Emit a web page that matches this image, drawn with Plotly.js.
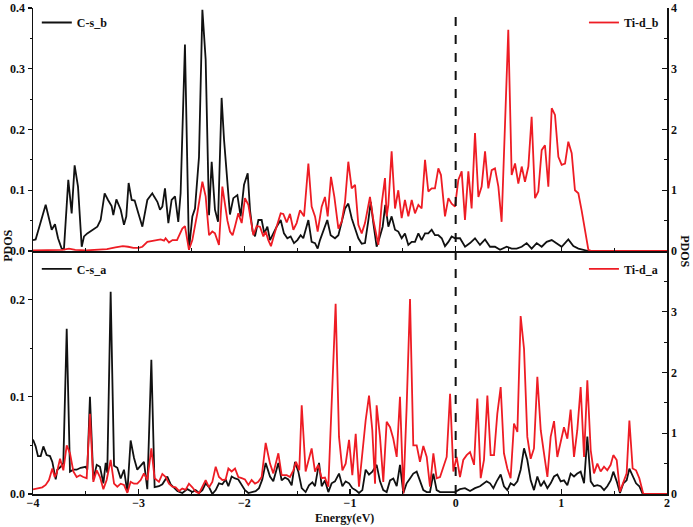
<!DOCTYPE html>
<html>
<head>
<meta charset="utf-8">
<script src="https://cdn.plot.ly/plotly-3.0.1.min.js"></script>
<style>html,body{margin:0;padding:0;background:#fff}#chart{width:693px;height:527px}</style>
</head>
<body>
<div id="chart"></div>
<script>
// ---- Top panel: C-s_b (left axis) ----
const csbE = [-4.000,-3.975,-3.880,-3.823,-3.792,-3.763,-3.729,-3.707,-3.666,-3.634,-3.606,-3.574,-3.539,-3.517,-3.486,-3.438,-3.391,-3.360,-3.322,-3.290,-3.256,-3.240,-3.211,-3.170,-3.139,-3.117,-3.095,-3.066,-3.038,-3.003,-2.965,-2.918,-2.871,-2.855,-2.823,-2.798,-2.776,-2.751,-2.719,-2.688,-2.656,-2.625,-2.603,-2.562,-2.546,-2.524,-2.492,-2.467,-2.429,-2.397,-2.366,-2.334,-2.309,-2.278,-2.249,-2.215,-2.192,
-2.136,-2.104,-2.066,-2.035,-2.003,-1.968,-1.946,-1.921,-1.899,-1.867,-1.836,-1.811,-1.782,-1.757,-1.726,-1.694,-1.656,-1.625,-1.593,-1.562,-1.530,-1.498,-1.467,-1.442,-1.394,-1.363,-1.331,-1.306,-1.284,-1.252,-1.215,-1.183,-1.142,-1.110,-1.079,-1.047,-1.016,-0.984,-0.952,-0.921,-0.889,-0.858,-0.826,-0.804,-0.779,-0.748,-0.722,-0.691,-0.666,-0.637,-0.606,-0.574,-0.543,-0.511,-0.480,-0.448,-0.416,-0.385,-0.353,-0.322,-0.290,-0.259,-0.227,-0.196,-0.164,-0.132,-0.101,-0.069,-0.038,-0.006,
0.041,0.089,0.136,0.183,0.230,0.278,0.325,0.372,0.420,0.483,0.530,0.577,0.625,0.672,0.719,0.767,0.814,0.861,0.909,0.956,1.003,1.066,1.114,1.161,1.208,1.256,2.000];
const csbV = [0.018,0.019,0.076,0.035,0.044,0.021,0.004,0.003,0.117,0.062,0.141,0.106,0.007,0.024,0.029,0.035,0.040,0.051,0.095,0.084,0.074,0.059,0.085,0.068,0.043,0.057,0.112,0.084,0.083,0.062,0.040,0.084,0.095,0.090,0.081,0.068,0.073,0.103,0.046,0.084,0.090,0.048,0.095,0.340,0.194,0.002,0.057,0.070,0.155,0.397,0.315,0.059,0.147,0.068,0.048,0.252,0.183,
0.060,0.087,0.092,0.057,0.109,0.128,0.067,0.032,0.024,0.051,0.051,0.029,0.040,0.018,0.029,0.040,0.051,0.029,0.021,0.024,0.013,0.018,0.026,0.021,0.051,0.015,0.013,0.004,0.018,0.035,0.051,0.026,0.021,0.026,0.046,0.070,0.078,0.054,0.037,0.021,0.012,0.013,0.051,0.081,0.046,0.007,0.021,0.040,0.076,0.040,0.057,0.035,0.032,0.021,0.029,0.010,0.015,0.015,0.029,0.018,0.029,0.029,0.035,0.026,0.026,0.021,0.008,0.015,0.024,0.021,
0.021,0.007,0.013,0.021,0.010,0.019,0.007,0.007,0.002,0.007,0.004,0.004,0.007,0.013,0.004,0.013,0.007,0.015,0.018,0.013,0.007,0.019,0.008,0.004,0.002,0.000,0.000];

// ---- Top panel: Ti-d_b (right axis) ----
const tidbE = [-4.000,-3.900,-3.800,-3.720,-3.660,-3.600,-3.500,-3.400,-3.300,-3.220,-3.150,-3.100,-3.050,-3.000,-2.965,-2.918,-2.855,-2.792,-2.760,-2.745,-2.713,-2.680,-2.637,-2.587,-2.562,-2.524,-2.492,-2.445,-2.397,-2.366,-2.334,-2.303,-2.278,-2.240,-2.208,-2.177,-2.160,
-2.136,-2.111,-2.089,-2.057,-2.025,-1.994,-1.962,-1.940,-1.915,-1.883,-1.852,-1.820,-1.798,-1.773,-1.748,-1.719,-1.688,-1.656,-1.631,-1.599,-1.568,-1.536,-1.505,-1.473,-1.435,-1.394,-1.363,-1.331,-1.306,-1.268,-1.237,-1.211,-1.180,-1.148,-1.110,-1.079,-1.047,-1.016,-0.984,-0.952,-0.921,-0.889,-0.858,-0.826,-0.811,-0.779,-0.732,-0.700,-0.669,-0.653,-0.637,-0.606,-0.574,-0.543,-0.511,-0.480,-0.448,-0.416,-0.385,-0.353,-0.322,-0.290,-0.259,-0.227,-0.196,-0.164,-0.139,-0.101,-0.069,-0.038,-0.006,
0.025,0.057,0.088,0.120,0.151,0.183,0.215,0.246,0.278,0.309,0.341,0.372,0.404,0.435,0.498,0.530,0.562,0.593,0.625,0.656,0.688,0.719,0.751,0.782,0.814,0.845,0.877,0.909,0.940,0.972,1.003,1.035,1.066,1.098,1.129,1.161,1.192,1.224,1.256,1.287,2.000];
const tidbV = [0.01,0.01,0.015,0.02,0.04,0.02,0.01,0.02,0.03,0.06,0.08,0.07,0.05,0.05,0.07,0.15,0.17,0.19,0.17,0.21,0.14,0.18,0.18,0.37,0.41,0.02,0.18,0.62,1.14,0.90,0.26,0.32,0.29,0.10,1.06,0.68,0.50,
0.32,0.26,0.40,0.62,0.46,0.87,0.76,0.51,0.26,0.41,0.40,0.24,0.32,0.18,0.08,0.26,0.46,0.62,0.61,0.47,0.61,0.35,0.46,0.67,0.57,1.44,0.73,0.57,0.32,0.73,0.89,0.57,1.22,0.89,0.37,0.48,0.81,1.47,1.03,1.09,0.43,0.29,0.46,0.76,0.89,0.51,0.10,0.78,1.20,0.57,0.76,1.64,0.70,1.00,0.54,0.84,0.57,0.84,0.62,0.76,0.70,1.50,0.98,1.03,1.03,1.36,1.25,0.57,0.87,0.78,0.73,
1.17,1.31,0.51,1.31,0.70,1.94,0.89,1.06,1.64,1.03,1.33,1.36,1.06,0.48,3.64,1.25,1.44,1.11,1.39,1.14,1.39,2.21,0.87,0.98,1.66,1.74,1.06,2.35,2.24,1.55,1.42,1.44,1.80,1.61,1.00,0.95,0.67,0.35,0.02,0.00,0.00];

// ---- Bottom panel: C-s_a (left axis) ----
const csaE = [-4.000,-3.975,-3.953,-3.927,-3.902,-3.871,-3.839,-3.817,-3.785,-3.770,-3.738,-3.713,-3.681,-3.650,-3.618,-3.587,-3.549,-3.502,-3.486,-3.461,-3.429,-3.397,-3.366,-3.334,-3.312,-3.297,-3.265,-3.233,-3.202,-3.170,-3.139,-3.107,-3.076,-3.044,-3.013,-2.981,-2.950,-2.918,-2.880,-2.849,-2.808,-2.776,-2.729,-2.697,-2.666,-2.634,-2.587,-2.539,-2.492,-2.461,-2.429,-2.397,-2.366,-2.334,-2.303,-2.271,-2.240,-2.208,-2.177,-2.151,-2.120,-2.088,-2.057,-2.025,-1.994,-1.962,-1.924,-1.893,-1.861,-1.830,-1.798,
-1.757,-1.726,-1.678,-1.647,-1.615,-1.584,-1.552,-1.520,-1.489,-1.457,-1.420,-1.388,-1.356,-1.331,-1.293,-1.268,-1.237,-1.205,-1.174,-1.142,-1.104,-1.072,-1.041,-1.009,-0.978,-0.946,-0.915,-0.883,-0.852,-0.820,-0.789,-0.748,-0.716,-0.685,-0.653,-0.621,-0.590,-0.558,-0.527,-0.495,-0.464,-0.432,-0.401,-0.369,-0.338,-0.306,-0.274,-0.243,-0.211,-0.180,-0.148,-0.085,-0.006,
0.041,0.088,0.136,0.183,0.230,0.262,0.293,0.325,0.357,0.388,0.426,0.457,0.489,0.520,0.552,0.584,0.615,0.647,0.678,0.710,0.741,0.773,0.805,0.836,0.868,0.899,0.931,0.962,0.994,1.025,1.057,1.088,1.120,1.151,1.183,1.215,1.246,1.278,1.309,1.341,1.372,1.404,1.435,1.467,1.492,1.524,1.555,1.587,1.618,1.644,1.675,1.707,1.738,1.770,2.000];
const csaV = [0.056,0.049,0.039,0.039,0.049,0.040,0.039,0.033,0.015,0.025,0.028,0.032,0.170,0.023,0.025,0.025,0.027,0.028,0.025,0.100,0.015,0.030,0.028,0.011,0.032,0.022,0.208,0.029,0.027,0.016,0.025,0.002,0.055,0.037,0.025,0.029,0.033,0.005,0.138,0.007,0.008,0.010,0.018,0.010,0.007,0.003,0.001,0.005,0.002,0.004,0.001,0.004,0.011,0.007,0.000,0.004,0.011,0.010,0.015,0.008,0.018,0.016,0.015,0.010,0.004,0.001,0.002,0.003,0.006,0.015,0.032,
0.018,0.013,0.032,0.014,0.017,0.015,0.009,0.033,0.023,0.006,0.002,0.009,0.012,0.008,0.032,0.008,0.014,0.002,0.011,0.013,0.021,0.008,0.013,0.011,0.006,0.004,0.001,0.004,0.025,0.020,0.023,0.030,0.013,0.004,0.002,0.014,0.016,0.008,0.030,0.001,0.011,0.016,0.021,0.023,0.013,0.004,0.002,0.002,0.021,0.004,0.002,0.002,0.002,
0.005,0.006,0.003,0.006,0.008,0.011,0.013,0.011,0.006,0.013,0.020,0.008,0.004,0.011,0.009,0.013,0.025,0.047,0.035,0.014,0.004,0.018,0.008,0.013,0.006,0.011,0.018,0.020,0.013,0.014,0.009,0.021,0.018,0.021,0.023,0.011,0.059,0.013,0.008,0.009,0.008,0.004,0.008,0.014,0.023,0.013,0.001,0.011,0.014,0.026,0.018,0.011,0.008,0.000,0.000];

// ---- Bottom panel: Ti-d_a (right axis) ----
const tidaE = [-4.000,-3.959,-3.912,-3.880,-3.849,-3.817,-3.795,-3.776,-3.744,-3.713,-3.681,-3.650,-3.618,-3.587,-3.555,-3.524,-3.492,-3.461,-3.429,-3.397,-3.366,-3.334,-3.303,-3.265,-3.233,-3.202,-3.170,-3.139,-3.107,-3.076,-3.044,-3.013,-2.981,-2.950,-2.918,-2.880,-2.849,-2.808,-2.776,-2.744,-2.713,-2.681,-2.650,-2.618,-2.587,-2.555,-2.524,-2.492,-2.461,-2.429,-2.397,-2.366,-2.334,-2.303,-2.271,-2.240,-2.208,-2.177,-2.151,-2.120,-2.088,-2.057,-2.025,-1.994,-1.962,-1.931,-1.899,-1.868,-1.836,-1.798,
-1.757,-1.726,-1.678,-1.647,-1.599,-1.568,-1.536,-1.511,-1.480,-1.457,-1.420,-1.363,-1.331,-1.300,-1.268,-1.237,-1.205,-1.136,-1.104,-1.072,-1.041,-1.009,-0.978,-0.946,-0.915,-0.883,-0.852,-0.820,-0.789,-0.763,-0.748,-0.716,-0.685,-0.653,-0.621,-0.590,-0.558,-0.527,-0.495,-0.464,-0.432,-0.401,-0.369,-0.338,-0.306,-0.274,-0.243,-0.211,-0.180,-0.148,-0.116,-0.085,-0.053,-0.022,
0.009,0.041,0.072,0.104,0.136,0.174,0.205,0.237,0.268,0.300,0.331,0.363,0.394,0.426,0.457,0.489,0.520,0.552,0.584,0.615,0.647,0.678,0.710,0.741,0.773,0.805,0.836,0.868,0.899,0.931,0.962,0.994,1.025,1.057,1.088,1.120,1.151,1.183,1.215,1.246,1.278,1.309,1.341,1.372,1.404,1.435,1.467,1.492,1.524,1.555,1.587,1.618,1.644,1.675,1.707,1.738,1.776,2.000];
const tidaV = [0.077,0.09,0.11,0.15,0.23,0.42,0.28,0.34,0.58,0.39,0.80,0.67,0.37,0.28,0.31,0.28,0.26,1.32,0.20,0.39,0.28,0.08,0.23,0.56,0.17,0.12,0.17,0.15,0.02,0.20,0.17,0.17,0.23,0.34,0.23,0.75,0.26,0.20,0.33,0.28,0.17,0.12,0.11,0.05,0.09,0.07,0.17,0.11,0.04,0.01,0.11,0.23,0.11,0.20,0.45,0.28,0.23,0.24,0.42,0.37,0.42,0.28,0.26,0.24,0.15,0.23,0.17,0.20,0.28,0.84,
0.50,0.34,0.67,0.31,0.31,0.28,0.39,0.53,0.39,1.46,0.37,0.75,0.37,0.48,0.26,0.27,0.12,3.13,0.94,0.39,0.50,0.89,0.31,0.99,0.12,0.67,1.21,1.62,1.05,0.17,1.46,0.94,0.20,1.19,1.10,0.91,0.61,1.60,0.01,1.43,3.21,0.80,0.80,0.53,0.79,0.61,0.12,0.67,0.26,0.28,0.45,0.61,1.65,0.37,
0.61,0.28,0.56,0.64,0.69,0.48,1.57,0.26,0.56,1.62,0.64,0.64,1.32,1.76,0.67,0.42,0.26,1.16,1.02,2.93,2.39,0.94,0.58,0.75,1.93,1.05,0.67,0.28,0.94,1.20,0.61,0.89,1.10,0.91,1.39,0.61,1.05,1.76,0.61,1.87,0.72,0.34,0.50,0.37,0.45,0.39,0.48,0.64,0.56,0.04,0.20,0.34,1.21,0.42,0.39,0.26,0.00,0.00];

const xTicks = [-4,-3,-2,-1,0,1,2];

const BLACK = '#111111', RED = '#ee1c24';
const FONT = {family: '"Liberation Serif", "Times New Roman", serif', size: 12, color: '#111', weight: 'bold'};

const traces = [
  {x: csbE, y: csbV, xaxis: 'x2', yaxis: 'y3', name: 'C-s_b', type: 'scatter', mode: 'lines', line: {color: BLACK, width: 1.8}, legend: 'legend'},
  {x: tidbE, y: tidbV, xaxis: 'x2', yaxis: 'y4', name: 'Ti-d_b', type: 'scatter', mode: 'lines', line: {color: RED, width: 1.8}, legend: 'legend2'},
  {x: csaE, y: csaV, xaxis: 'x', yaxis: 'y', name: 'C-s_a', type: 'scatter', mode: 'lines', line: {color: BLACK, width: 1.8}, legend: 'legend3'},
  {x: tidaE, y: tidaV, xaxis: 'x', yaxis: 'y2', name: 'Ti-d_a', type: 'scatter', mode: 'lines', line: {color: RED, width: 1.8}, legend: 'legend4'}
];

const axCommon = {showgrid: false, zeroline: false, showline: true, linecolor: '#111', linewidth: 1.5, tickcolor: '#111', tickwidth: 1.2, tickfont: FONT};
const legCommon = {bgcolor: 'rgba(0,0,0,0)', font: FONT, xanchor: 'left', yanchor: 'top', tracegroupgap: 0};

const layout = {
  width: 693, height: 527,
  margin: {l: 33, r: 26, t: 8, b: 33},
  paper_bgcolor: '#fff', plot_bgcolor: '#fff',
  font: FONT,
  showlegend: true,
  xaxis: Object.assign({}, axCommon, {range: [-4, 2], tickvals: xTicks, ticks: 'inside', ticklen: 5, ticklabelstandoff: -3, anchor: 'y', minor: {dtick: 0.5, ticks: 'inside', ticklen: 3, tickcolor: '#111'}}),
  xaxis2: Object.assign({}, axCommon, {range: [-4, 2], matches: 'x', tickvals: xTicks, ticks: 'inside', ticklen: 5, showticklabels: false, anchor: 'y3', minor: {dtick: 0.5, ticks: 'inside', ticklen: 3, tickcolor: '#111'}}),
  yaxis: Object.assign({}, axCommon, {domain: [0, 0.5], range: [0, 0.25], dtick: 0.1, tickformat: '.1f', ticks: 'outside', ticklen: 4, anchor: 'x', minor: {dtick: 0.05, ticks: 'outside', ticklen: 2, tickcolor: '#111'}}),
  yaxis2: Object.assign({}, axCommon, {overlaying: 'y', side: 'right', range: [0, 4], tickvals: [0, 1, 2, 3], ticks: 'inside', ticklen: 5, anchor: 'x', minor: {dtick: 0.5, ticks: 'inside', ticklen: 3, tickcolor: '#111'}}),
  yaxis3: Object.assign({}, axCommon, {domain: [0.5, 1], range: [0, 0.4], dtick: 0.1, tickformat: '.1f', ticks: 'outside', ticklen: 4, anchor: 'x2', minor: {dtick: 0.05, ticks: 'outside', ticklen: 2, tickcolor: '#111'}}),
  yaxis4: Object.assign({}, axCommon, {overlaying: 'y3', side: 'right', range: [0, 4], dtick: 1, ticks: 'inside', ticklen: 5, anchor: 'x2', minor: {dtick: 0.5, ticks: 'inside', ticklen: 3, tickcolor: '#111'}}),
  legend: Object.assign({}, legCommon, {x: 0.006, y: 1.0}),
  legend2: Object.assign({}, legCommon, {x: 0.869, y: 1.0}),
  legend3: Object.assign({}, legCommon, {x: 0.006, y: 0.493}),
  legend4: Object.assign({}, legCommon, {x: 0.869, y: 0.493}),
  shapes: [
    {type: 'line', xref: 'x', yref: 'paper', x0: 0, x1: 0, y0: 0, y1: 1, line: {color: '#111', width: 2, dash: 'dash'}}
  ],
  annotations: [
    {text: 'Energy(eV)', xref: 'paper', yref: 'paper', x: 0.492, y: -0.049, xanchor: 'center', yanchor: 'middle', showarrow: false, font: FONT},
    {text: 'PDOS', xref: 'paper', yref: 'paper', x: -0.04, y: 0.51, xanchor: 'center', yanchor: 'middle', textangle: -90, showarrow: false, font: FONT},
    {text: 'PDOS', xref: 'paper', yref: 'paper', x: 1.028, y: 0.5, xanchor: 'center', yanchor: 'middle', textangle: 90, showarrow: false, font: FONT}
  ]
};

Plotly.newPlot('chart', traces, layout, {staticPlot: true, displayModeBar: false});
</script>
</body>
</html>
